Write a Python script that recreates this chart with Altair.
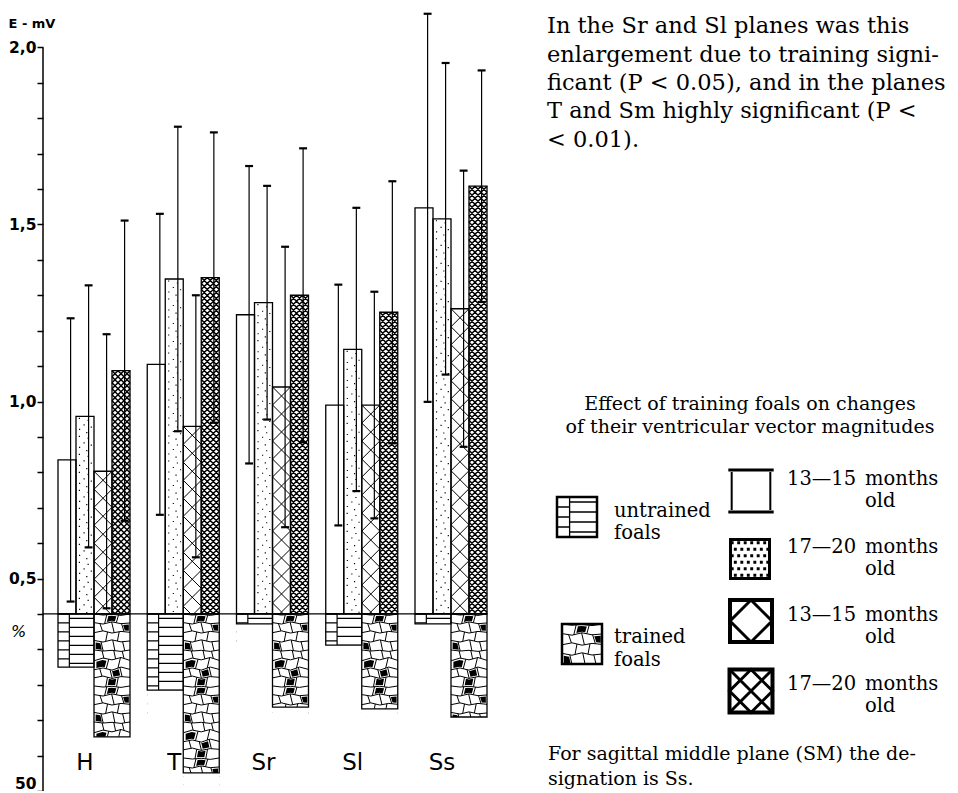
import altair as alt
import pandas as pd

# ---------------- data ----------------
PLANES = ["H", "T", "Sr", "Sl", "Ss"]
SERIES = ["untrained 13-15 months", "untrained 17-20 months",
          "trained 13-15 months", "trained 17-20 months"]
MEAN_UNTR_1315 = [0.835, 1.105, 1.245, 0.99, 1.547]
SD_UNTR_1315 = [0.40, 0.425, 0.42, 0.34, 0.548]
MEAN_UNTR_1720 = [0.958, 1.346, 1.279, 1.147, 1.516]
SD_UNTR_1720 = [0.37, 0.43, 0.33, 0.40, 0.44]
MEAN_TR_1315 = [0.803, 0.93, 1.041, 0.99, 1.262]
SD_TR_1315 = [0.387, 0.37, 0.396, 0.32, 0.39]
MEAN_TR_1720 = [1.087, 1.35, 1.30, 1.252, 1.608]
SD_TR_1720 = [0.424, 0.41, 0.415, 0.37, 0.327]
PCT_GROUPS = ["untrained foals", "trained foals"]
PCT_UNTRAINED = [15.0, 21.5, 2.8, 8.8, 2.8]
PCT_TRAINED = [34.7, 44.9, 26.3, 26.8, 29.1]
Y_TICK_VALUES = [2.0, 1.9, 1.8, 1.7, 1.6, 1.5, 1.4, 1.3, 1.2, 1.1, 1.0, 0.9, 0.8,
                 0.7, 0.6, 0.5, 0.4, 0.3, 0.2, 0.1, 0.0, -0.1]
Y_TICK_LABELS = {2.0: "2,0", 1.5: "1,5", 1.0: "1,0", 0.5: "0,5", -0.1: "50"}

PARAGRAPH = ["In the Sr and Sl planes was this",
             "enlargement due to training signi-",
             "ficant (P < 0.05), and in the planes",
             "T and Sm highly significant (P <",
             "< 0.01)."]
LEGEND_TITLE = ["Effect of training foals on changes",
                "of their ventricular vector magnitudes"]
FOOTNOTE = ["For sagittal middle plane (SM) the de-", "signation is Ss."]
AGE_LABELS = ["13\u201415", "17\u201420", "13\u201415", "17\u201420"]

# ---------------- layout / style constants ----------------
W, H = 907, 779
PAD = {"left": 35, "top": 4, "right": 0, "bottom": 0}
BAR_PX = 18.0
Y_MIN, Y_MAX = -0.1, 2.1
BASE = 0.4                      # break between the mV part and the % part
PX_PER_MV = H / (Y_MAX - Y_MIN)
X_START = 15 / BAR_PX
G_STEP = 89.25 / BAR_PX
END = X_START + 4 * G_STEP + 4
TILE1 = BAR_PX / PX_PER_MV
TILE2 = 2 * BAR_PX / PX_PER_MV
LABEL_Y = BASE - 156 / PX_PER_MV
PCT_SIGN_Y = BASE - 18 / PX_PER_MV
SERIF = "DejaVu Serif"
AXFONT = "DejaVu Sans"

xs = alt.Scale(domain=[0, W / BAR_PX], nice=False, zero=False)
ys = alt.Scale(domain=[Y_MIN, Y_MAX], nice=False, zero=False)


# ---------------- pattern tiles (symbol paths in [-1,1]) ----------------
def f(v):
    return f"{v:.3f}"


def poly(points, close=True):
    s = "M" + "L".join(f"{f(x)},{f(y)}" for x, y in points)
    return s + ("Z" if close else "")


DIAG_TILE = "M-1,-1L1,1M-1,1L1,-1"


def cross_tile(n=3):
    step = 2.0 / n
    s = ""
    for i in range(1, 2 * n):
        c = -2 + step * i
        xa, xb = max(-1, c - 1), min(1, c + 1)
        s += poly([(xa, c - xa), (xb, c - xb)], close=False)
        xa, xb = max(-1, -1 - c), min(1, 1 - c)
        s += poly([(xa, xa + c), (xb, xb + c)], close=False)
    return s


def dots(points, h):
    return "".join(poly([(x - h, y - h), (x + h, y - h), (x + h, y + h), (x - h, y + h)])
                   for x, y in points)


DOT_POS = [(-0.62, -0.78), (0.35, -0.55), (-0.1, -0.05), (0.7, 0.2),
           (-0.6, 0.45), (0.2, 0.8)]
DOT_TILE = dots(DOT_POS, 0.065)
LEG_DOTS = dots([(-1 + (i + 0.5) * 2 / 6 + (0.08 if j % 2 else -0.08), -1 + (j + 0.5) * 2 / 6)
                 for i in range(6) for j in range(6)], 0.075)


def untrained_tile(d=-0.37):
    s = f"M{d},-1L{d},1"
    for y in (-1, -0.5, 0, 0.5):
        s += f"M-1,{y}L{d},{y}"
    for y in (-0.75, -0.25, 0.25, 0.75):
        s += f"M{d},{y}L1,{y}"
    return s


MOS_X = [-1.0, -0.5, 0.0, 0.5, 1.0]
MOS_TOP = [-1.0, -0.94, -0.98, -0.92, -1.0]
MOSAICS = [
    {"inner": [[-0.52, -0.44, -0.56, -0.46, -0.50],
               [0.04, -0.06, 0.06, -0.03, 0.02],
               [0.47, 0.56, 0.44, 0.55, 0.50]],
     "seps": [[-0.35, 0.3], [-0.6, 0.05, 0.6], [-0.3, 0.35], [-0.55, 0.1, 0.65]],
     "slant": [0.06, -0.07, 0.05, -0.06],
     "black": [(0, 1), (1, 3), (3, 0)]},
    {"inner": [[-0.40, -0.55, -0.45, -0.58, -0.42],
               [0.10, 0.0, 0.12, -0.05, 0.08],
               [0.55, 0.45, 0.58, 0.48, 0.52]],
     "seps": [[-0.5, 0.15, 0.62], [-0.25, 0.4], [-0.62, -0.05, 0.5], [-0.3, 0.3]],
     "slant": [-0.05, 0.07, -0.06, 0.05],
     "black": [(1, 0), (2, 2), (3, 1)]},
]


def yat(b, x):
    for i in range(4):
        if MOS_X[i] <= x <= MOS_X[i + 1]:
            t = (x - MOS_X[i]) / (MOS_X[i + 1] - MOS_X[i])
            return b[i] + t * (b[i + 1] - b[i])
    return b[-1] if x > 1 else b[0]


def mosaic(spec):
    bounds = [MOS_TOP] + spec["inner"] + [[v + 2 for v in MOS_TOP]]
    outline = ""
    for r in range(4):
        outline += poly(list(zip(MOS_X, bounds[r])), close=False)
    cells = {}
    for r in range(4):
        top, bot = bounds[r], bounds[r + 1]
        sl = spec["slant"][r]
        edges = [(-1.0, -1.0)] + [(sx + sl, sx - sl) for sx in spec["seps"][r]] + [(1.0, 1.0)]
        for xt, xb in edges[1:-1]:
            outline += poly([(xt, yat(top, xt)), (xb, yat(bot, xb))], close=False)
        for k in range(len(edges) - 1):
            (xt0, xb0), (xt1, xb1) = edges[k], edges[k + 1]
            pts = [(xt0, yat(top, xt0))]
            pts += [(x, y) for x, y in zip(MOS_X, top) if xt0 < x < xt1]
            pts += [(xt1, yat(top, xt1)), (xb1, yat(bot, xb1))]
            pts += [(x, y) for x, y in reversed(list(zip(MOS_X, bot))) if xb0 < x < xb1]
            pts += [(xb0, yat(bot, xb0))]
            cells[(r, k)] = pts
    fill = ""
    for key in spec["black"]:
        pts = cells[key]
        cx = sum(p[0] for p in pts) / len(pts)
        cy = sum(p[1] for p in pts) / len(pts)
        fill += poly([(cx + 0.68 * (x - cx), cy + 0.68 * (y - cy)) for x, y in pts])
    return outline, fill


CROSS_TILE = cross_tile(3)
UNTR_TILE = untrained_tile()
MOS_TILES = [mosaic(m) for m in MOSAICS]
SQUARE = "M-1,-1L1,-1L1,1L-1,1Z"
DIAMOND = "M0,-1L1,0L0,1L-1,0Z"

# ---------------- tables ----------------
means = [MEAN_UNTR_1315, MEAN_UNTR_1720, MEAN_TR_1315, MEAN_TR_1720]
sds = [SD_UNTR_1315, SD_UNTR_1720, SD_TR_1315, SD_TR_1720]
mv = pd.DataFrame([{"plane": p, "gi": gi, "series": s, "si": si,
                    "mean": means[si][gi], "sd": sds[si][gi]}
                   for gi, p in enumerate(PLANES) for si, s in enumerate(SERIES)])
pcts = [PCT_UNTRAINED, PCT_TRAINED]
pc = pd.DataFrame([{"plane": p, "gi": gi, "group": g, "ti": ti, "pct": pcts[ti][gi]}
                   for gi, p in enumerate(PLANES) for ti, g in enumerate(PCT_GROUPS)])
planes_df = pd.DataFrame({"plane": PLANES, "gi": list(range(len(PLANES)))})
one = pd.DataFrame({"k": [0]})

mv_base = alt.Chart(mv).transform_calculate(
    x0=f"{X_START} + datum.gi * {G_STEP} + datum.si",
    x1="datum.x0 + 1",
)
pc_base = alt.Chart(pc).transform_calculate(
    x0=f"{X_START} + datum.gi * {G_STEP} + 2 * datum.ti",
    x1="datum.x0 + 2",
    ybot=f"{BASE} - datum.pct / 100",
)

label_expr = " : ".join(f"datum.value == {v} ? '{t}'" for v, t in Y_TICK_LABELS.items()) + " : ''"
yaxis = alt.Axis(values=Y_TICK_VALUES, labelExpr=label_expr, tickSize=6, tickWidth=1.5,
                 tickColor="black", domain=False, grid=False, labelFont=AXFONT,
                 labelFontSize=15.5, labelFontWeight="bold", labelColor="black",
                 labelPadding=1, labelOverlap=False, labelFlush=True,
                 title="E - mV", titleAngle=0, titleX=-35, titleY=11, titleAlign="left",
                 titleBaseline="middle", titleFontSize=13, titleFontWeight="bold",
                 titleFont=AXFONT, titleColor="black")

X = lambda fld: alt.X(fld, scale=xs, axis=None)
Y = lambda fld: alt.Y(fld, scale=ys, axis=yaxis)
YD = lambda v: alt.YDatum(v, scale=ys, axis=yaxis)


def mv_pattern(si, path, filled, sw):
    return mv_base.transform_filter(f"datum.si == {si}").transform_calculate(
        k=f"sequence(0, ceil((datum.mean - {BASE}) / {TILE1}))"
    ).transform_flatten(["k"]).transform_calculate(
        xc="datum.x0 + 0.5", yc=f"datum.mean - (datum.k + 0.5) * {TILE1}"
    ).mark_point(shape=path, size=BAR_PX ** 2, filled=filled, strokeWidth=sw,
                 color="black", opacity=1, clip=True).encode(x=X("xc:Q"), y=Y("yc:Q"))


def pc_pattern(ti, path, filled, sw, parity=None):
    c = pc_base.transform_filter(f"datum.ti == {ti}").transform_calculate(
        k=f"sequence(0, ceil((datum.pct / 100) / {TILE2}))"
    ).transform_flatten(["k"])
    if parity is not None:
        c = c.transform_filter(f"datum.k % 2 == {parity}")
    return c.transform_calculate(
        xc="datum.x0 + 1", yc=f"{BASE} - (datum.k + 0.5) * {TILE2}"
    ).mark_point(shape=path, size=(2 * BAR_PX) ** 2, filled=filled, strokeWidth=sw,
                 color="black", opacity=1, clip=True).encode(x=X("xc:Q"), y=Y("yc:Q"))


layers = []
# mV bar patterns
layers.append(mv_pattern(1, DOT_TILE, True, 0))
layers.append(mv_pattern(2, DIAG_TILE, False, 1.0))
layers.append(mv_pattern(3, CROSS_TILE, False, 1.5))
# white mask below the baseline
layers.append(alt.Chart(one).mark_rect(color="white").encode(
    x=alt.XDatum(X_START - 0.2, scale=xs, axis=None), x2=alt.X2Datum(END + 0.2),
    y=YD(BASE), y2=alt.Y2Datum(Y_MIN)))
# % bar patterns
layers.append(pc_pattern(0, UNTR_TILE, False, 1.2))
for par, (lines, fill) in enumerate(MOS_TILES):
    layers.append(pc_pattern(1, fill, True, 0, par))
    layers.append(pc_pattern(1, lines, False, 1.0, par))
# mask below each % bar
layers.append(pc_base.mark_rect(color="white").encode(
    x=X("x0:Q"), x2="x1:Q", y=Y("ybot:Q"), y2=alt.Y2Datum(Y_MIN)))
# outlines
layers.append(mv_base.mark_rect(fill="white", fillOpacity=0, stroke="black", strokeWidth=1.3).encode(
    x=X("x0:Q"), x2="x1:Q", y=Y("mean:Q"), y2=alt.Y2Datum(BASE)))
layers.append(pc_base.mark_rect(fill="white", fillOpacity=0, stroke="black", strokeWidth=1.3).encode(
    x=X("x0:Q"), x2="x1:Q", y=Y("ybot:Q"), y2=alt.Y2Datum(BASE)))
# baseline and axis line
layers.append(alt.Chart(one).mark_rule(color="black", strokeWidth=1.3).encode(
    x=alt.XDatum(0, scale=xs, axis=None), x2=alt.X2Datum(END), y=YD(BASE)))
layers.append(alt.Chart(one).mark_rule(color="black", strokeWidth=1.5).encode(
    x=alt.XDatum(0, scale=xs, axis=None), y=YD(2.0), y2=alt.Y2Datum(Y_MIN)))
# error bars (mean +/- SD)
err = mv_base.transform_calculate(
    xe="datum.x0 + 0.7", xa="datum.xe - 0.22", xb="datum.xe + 0.22",
    hi="datum.mean + datum.sd", lo="datum.mean - datum.sd")
layers.append(err.mark_rule(color="black", strokeWidth=1.2).encode(
    x=X("xe:Q"), y=Y("lo:Q"), y2="hi:Q"))
layers.append(err.mark_rule(color="black", strokeWidth=2.2).encode(
    x=X("xa:Q"), x2="xb:Q", y=Y("hi:Q")))
layers.append(err.mark_rule(color="black", strokeWidth=2.2).encode(
    x=X("xa:Q"), x2="xb:Q", y=Y("lo:Q")))
# plane labels and % sign
layers.append(alt.Chart(planes_df).transform_calculate(
    xl=f"{X_START} + datum.gi * {G_STEP} + 1.5"
).mark_text(font="DejaVu Sans", fontSize=23, baseline="alphabetic", align="center",
            color="black").encode(x=X("xl:Q"), y=YD(LABEL_Y), text="plane:N"))
layers.append(alt.Chart(one).mark_text(text="%", font="DejaVu Sans", fontSize=16, align="left",
                                       fontStyle="italic", color="black").encode(
    x=alt.value(-32), y=YD(PCT_SIGN_Y)))

# ---------------- annotation text (pixel positions in the view) ----------------
left_rows = []
for i, t in enumerate(PARAGRAPH):
    left_rows.append({"t": t, "px": 504, "py": [21, 50, 78, 106, 135][i], "fs": 22.5})
for i, t in enumerate(FOOTNOTE):
    left_rows.append({"t": t, "px": 505, "py": [748, 773][i], "fs": 19})
for t, py in [("untrained", 505), ("foals", 527), ("trained", 631), ("foals", 654)]:
    left_rows.append({"t": t, "px": 571, "py": py, "fs": 19.5})
for i, t in enumerate(AGE_LABELS):
    py = [473, 541, 609, 678][i]
    left_rows.append({"t": t, "px": 744, "py": py, "fs": 19.5})
    left_rows.append({"t": "months", "px": 822, "py": py, "fs": 19.5})
    left_rows.append({"t": "old", "px": 822, "py": py + 22, "fs": 19.5})
center_rows = [{"t": t, "px": 707, "py": [398, 421][i], "fs": 19} for i, t in enumerate(LEGEND_TITLE)]

for rows, align in [(left_rows, "left"), (center_rows, "center")]:
    layers.append(alt.Chart(pd.DataFrame(rows)).mark_text(
        align=align, baseline="alphabetic", font=SERIF, color="black").encode(
        x=alt.X("px:Q", scale=None, axis=None), y=alt.Y("py:Q", scale=None, axis=None),
        text="t:N", size=alt.Size("fs:Q", scale=None, legend=None)))


def swatch(px, py, shape, side, filled, sw):
    return alt.Chart(one).mark_point(shape=shape, size=side * side, filled=filled,
                                     strokeWidth=sw, color="black", opacity=1).encode(
        x=alt.value(px), y=alt.value(py))


# left legend: untrained / trained foals
layers.append(swatch(534, 505, UNTR_TILE, 40, False, 1.3))
layers.append(swatch(534, 505, SQUARE, 40, False, 2.5))
layers.append(swatch(539, 632, MOS_TILES[0][1], 40, True, 0))
layers.append(swatch(539, 632, MOS_TILES[0][0], 40, False, 1.0))
layers.append(swatch(539, 632, SQUARE, 40, False, 2.5))
# right legend: age classes
layers.append(swatch(708, 479, "M-1.08,-1L1.08,-1M-1.08,1L1.08,1", 42, False, 3))
layers.append(swatch(708, 479, "M-0.92,-0.9L-0.92,0.9M0.92,-0.9L0.92,0.9", 42, False, 2))
layers.append(swatch(707, 547, LEG_DOTS, 39, True, 0))
layers.append(swatch(707, 547, SQUARE, 39, False, 3))
layers.append(swatch(708, 609, DIAMOND, 42, False, 3))
layers.append(swatch(708, 609, SQUARE, 42, False, 4))
layers.append(swatch(708, 679, DIAG_TILE + DIAMOND, 43, False, 3))
layers.append(swatch(708, 679, SQUARE, 43, False, 4))

chart = alt.layer(*layers).properties(
    width=W, height=H, padding=PAD, autosize=alt.AutoSizeParams(type="none")
).configure_view(stroke=None)

chart.save("out.html", embed_options={"renderer": "svg", "actions": False})
